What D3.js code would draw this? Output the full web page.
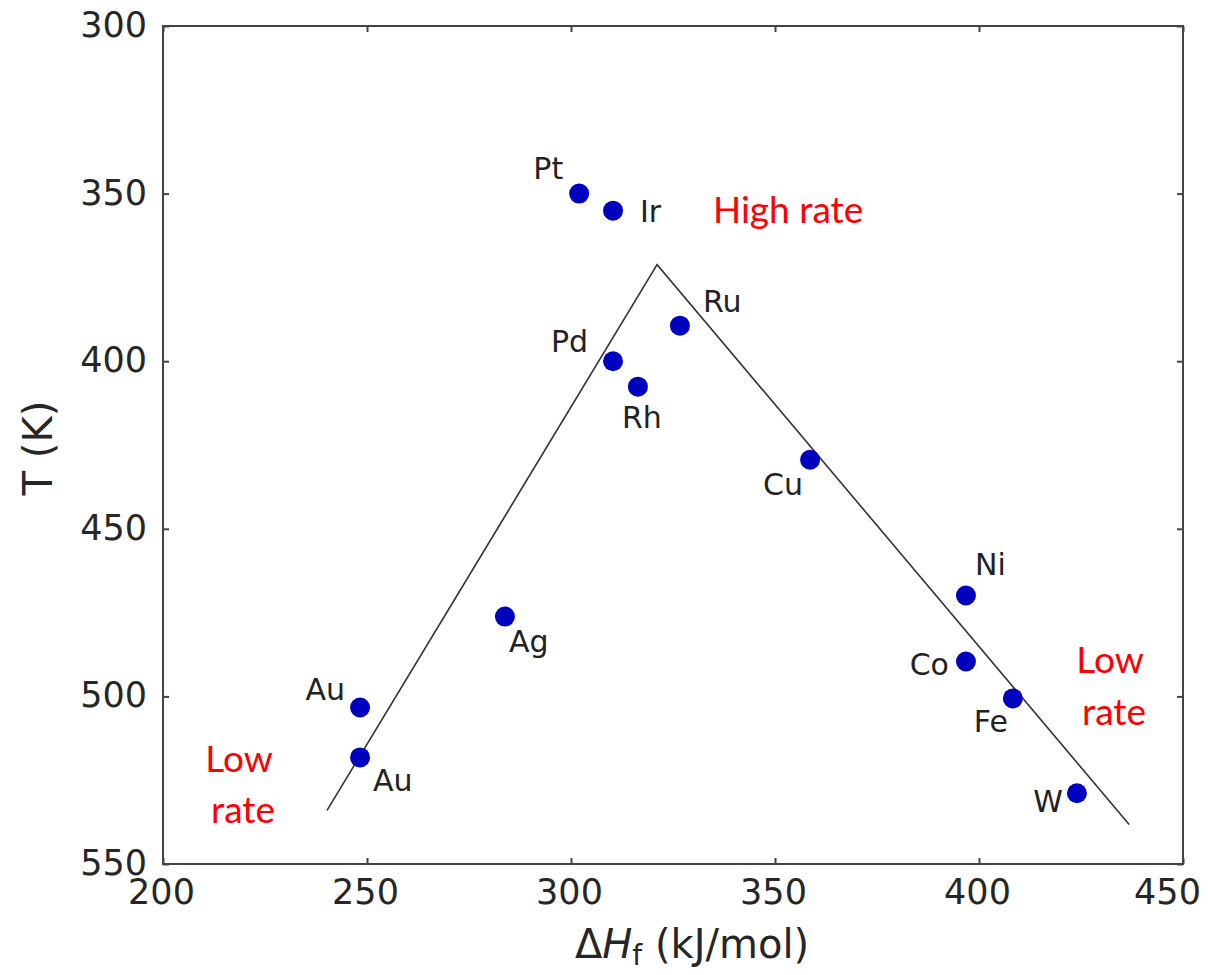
<!DOCTYPE html>
<html>
<head>
<meta charset="utf-8">
<script src="https://cdn.jsdelivr.net/npm/d3@7"></script>
<style>
  body { margin: 0; background: #fff; }
  svg { display: block; }
  .tick text { font-family: "DejaVu Sans", sans-serif; font-size: 35px; fill: #262626; }
  .tick line { stroke: #444; stroke-width: 2px; }
  .lbl { font-family: "DejaVu Sans", sans-serif; font-size: 30px; fill: #222; }
  .rate { font-family: Lato, "Open Sans", sans-serif; font-size: 37px; fill: #ff0000; }
  .axlabel { font-family: "DejaVu Sans", sans-serif; font-size: 40px; fill: #262626; }
</style>
</head>
<body>
<div id="chart"></div>
<script>
// metals, heat of formation (kJ/mol) and temperature (K)
const metals = ["Pt", "Ir", "Ru", "Pd", "Rh", "Cu", "Ni", "Co", "Fe", "W", "Au", "Au", "Ag"];
const dH = [302, 310.3, 326.7, 310.3, 316.4, 358.6, 396.8, 396.8, 408.3, 424, 248.3, 248.3, 283.8];
const temp = [350, 355.1, 389.4, 400, 407.6, 429.4, 469.9, 489.6, 500.6, 528.9, 503.3, 518.2, 476.2];

// volcano line
const lineX = [240.2, 321.1, 436.8];
const lineY = [534, 371.2, 538.2];

const xTicks = [200, 250, 300, 350, 400, 450];
const yTicks = [300, 350, 400, 450, 500, 550];

// label placement (px offsets from the dot, anchor)
const labelPos = [
  [-16, -15, "end"], [27, 11, "start"], [23, -14, "start"], [-25, -9, "end"],
  [4, 41, "middle"], [-7, 35, "end"], [9, -21, "start"], [-17, 13, "end"],
  [-5, 34, "end"], [-14, 19, "end"], [-15, -7, "end"], [13, 34, "start"],
  [4, 35, "start"]
];

const width = 1208, height = 975;
const margin = {left: 163, top: 26, right: 1208 - 1183, bottom: 975 - 864};

const svg = d3.select('#chart').append('svg')
  .attr('width', width)
  .attr('height', height);

const x = d3.scaleLinear().domain([200, 450]).range([margin.left, width - margin.right]);
const y = d3.scaleLinear().domain([300, 550]).range([margin.top, height - margin.bottom]);

// axes, ticks pointing in
const gBottom = svg.append('g')
  .attr('transform', 'translate(0,' + y(550) + ')')
  .call(d3.axisBottom(x).tickValues(xTicks).tickSize(-6).tickPadding(14));
const gTop = svg.append('g')
  .attr('transform', 'translate(0,' + y(300) + ')')
  .call(d3.axisTop(x).tickValues(xTicks).tickSize(-6).tickFormat(''));
const gLeft = svg.append('g')
  .attr('transform', 'translate(' + x(200) + ',0)')
  .call(d3.axisLeft(y).tickValues(yTicks).tickSize(-6).tickPadding(16));
const gRight = svg.append('g')
  .attr('transform', 'translate(' + x(450) + ',0)')
  .call(d3.axisRight(y).tickValues(yTicks).tickSize(-6).tickFormat(''));

[gBottom, gTop, gLeft, gRight].forEach(g => g.select('.domain').remove());

svg.append('rect')
  .attr('x', x(200)).attr('y', y(300))
  .attr('width', x(450) - x(200)).attr('height', y(550) - y(300))
  .attr('fill', 'none').attr('stroke', '#444').attr('stroke-width', 2);

gLeft.selectAll('.tick text').attr('dy', '0.3em');
gBottom.selectAll('.tick text')
  .attr('dy', '0.75em')
  .attr('x', d => d === 450 ? -16 : -2);

// line
const pts = lineX.map((v, i) => [v, lineY[i]]);
svg.append('path')
  .datum(pts)
  .attr('d', d3.line().x(d => x(d[0])).y(d => y(d[1])))
  .attr('fill', 'none')
  .attr('stroke', '#333')
  .attr('stroke-width', 1.6);

// points
const data = metals.map((m, i) => ({name: m, dh: dH[i], t: temp[i]}));

svg.append('g').selectAll('circle')
  .data(data)
  .enter()
  .append('circle')
  .attr('cx', d => x(d.dh))
  .attr('cy', d => y(d.t))
  .attr('r', 10)
  .attr('fill', '#0000bf');

svg.append('g').selectAll('text')
  .data(data)
  .enter()
  .append('text')
  .attr('class', 'lbl')
  .attr('x', (d, i) => x(d.dh) + labelPos[i][0])
  .attr('y', (d, i) => y(d.t) + labelPos[i][1])
  .attr('text-anchor', (d, i) => labelPos[i][2])
  .text(d => d.name);

// region notes
svg.append('text').attr('class', 'rate')
  .attr('x', 713).attr('y', 223).text('High rate');
const lowL = svg.append('text').attr('class', 'rate').attr('text-anchor', 'middle');
lowL.append('tspan').attr('x', 239).attr('y', 772).text('Low');
lowL.append('tspan').attr('x', 243).attr('y', 823).text('rate');
const lowR = svg.append('text').attr('class', 'rate').attr('text-anchor', 'middle');
lowR.append('tspan').attr('x', 1110).attr('y', 673).text('Low');
lowR.append('tspan').attr('x', 1114).attr('y', 725).text('rate');

// axis labels
const xl = svg.append('text').attr('class', 'axlabel')
  .attr('x', 692).attr('y', 958)
  .attr('text-anchor', 'middle');
xl.append('tspan').text('\u0394');
xl.append('tspan').attr('font-style', 'italic').text('H');
xl.append('tspan').attr('font-size', '28px').attr('dy', 7).text('f');
xl.append('tspan').attr('dy', -7).text(' (kJ/mol)');

svg.append('text').attr('class', 'axlabel')
  .attr('transform', 'translate(52,' + ((y(300) + y(550)) / 2 + 3) + ') rotate(-90)')
  .attr('text-anchor', 'middle')
  .text('T (K)');
</script>
</body>
</html>
